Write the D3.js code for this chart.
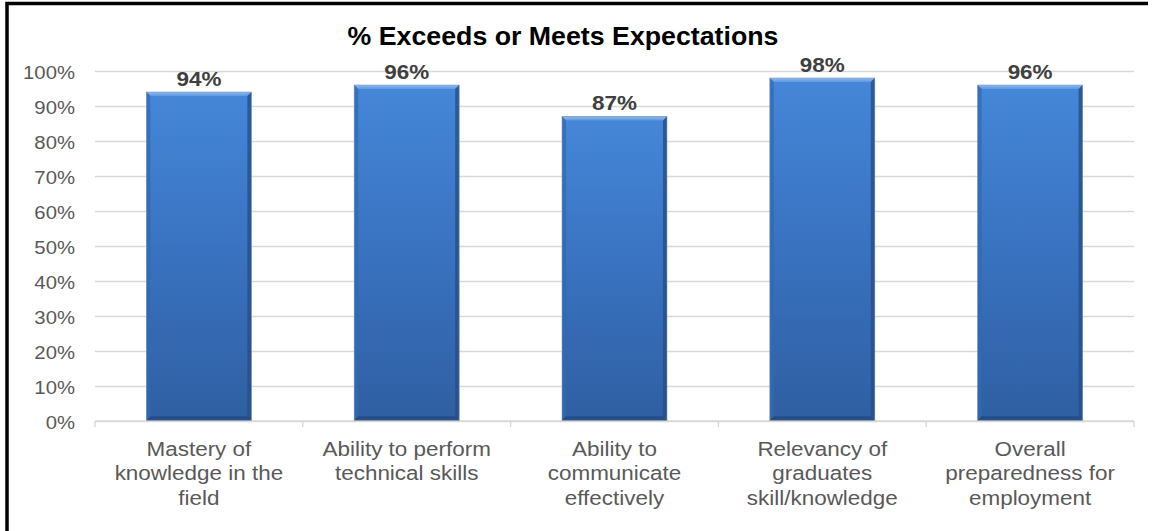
<!DOCTYPE html>
<html>
<head>
<meta charset="utf-8">
<script src="https://cdn.jsdelivr.net/npm/d3@7"></script>
<style>
  html, body { margin: 0; padding: 0; background: #fff; }
  svg { display: block; font-family: "Liberation Sans", Arial, sans-serif; }
</style>
</head>
<body>
<svg id="chart" width="1152" height="531"></svg>
<script>
// Survey results: share of ratings that exceed or meet expectations
const categories = [
  "Mastery of\nknowledge in the\nfield",
  "Ability to perform\ntechnical skills",
  "Ability to\ncommunicate\neffectively",
  "Relevancy of\ngraduates\nskill/knowledge",
  "Overall\npreparedness for\nemployment"
];
const values = [0.94, 0.96, 0.87, 0.98, 0.96];
const yTicks = [0, 0.1, 0.2, 0.3, 0.4, 0.5, 0.6, 0.7, 0.8, 0.9, 1.0];
const title = "% Exceeds or Meets Expectations";

const svg = d3.select("#chart");
const W = 1152, H = 531;
const plot = { left: 95, right: 1134, top: 71, bottom: 421 };
const STRETCH = 1.07; // text is drawn slightly wide

const x = d3.scaleBand()
  .domain(categories)
  .range([plot.left, plot.right])
  .paddingInner(0.495)
  .paddingOuter(0.2475);

const y = d3.scaleLinear().domain([0, 1]).range([plot.bottom, plot.top]);

// Frame (top and left edges)
svg.append("path")
  .attr("d", `M7,${H + 5} L7,3.5 L1148,3.5`)
  .attr("fill", "none")
  .attr("stroke", "#000")
  .attr("stroke-width", 3.5);

// Gradients for the bevelled bars
const defs = svg.append("defs");
const body = defs.append("linearGradient").attr("id", "barBody")
  .attr("x1", 0).attr("y1", 0).attr("x2", 0).attr("y2", 1);
body.append("stop").attr("offset", "0%").attr("stop-color", "#4587D8");
body.append("stop").attr("offset", "45%").attr("stop-color", "#3A74C2");
body.append("stop").attr("offset", "100%").attr("stop-color", "#2F5FA2");

const topBevel = defs.append("linearGradient").attr("id", "barTop")
  .attr("x1", 0).attr("y1", 0).attr("x2", 0).attr("y2", 1);
topBevel.append("stop").attr("offset", "0%").attr("stop-color", "#8EBBF0");
topBevel.append("stop").attr("offset", "100%").attr("stop-color", "#5C98E0");

// Gridlines
const grid = svg.append("g")
  .attr("transform", `translate(${plot.left},0)`)
  .call(d3.axisLeft(y).tickValues(yTicks).tickSize(-(plot.right - plot.left)).tickFormat(""));
grid.select(".domain").remove();
grid.selectAll("line").attr("stroke", "#D9D9D9").attr("stroke-width", 1.4);

// Y axis labels
const yAxis = svg.append("g")
  .attr("transform", `translate(${plot.left},0)`)
  .call(d3.axisLeft(y).tickValues(yTicks).tickSize(0).tickPadding(20 / STRETCH)
    .tickFormat(d3.format(".0%")));
yAxis.select(".domain").remove();
yAxis.selectAll("text")
  .attr("fill", "#595959")
  .attr("font-size", 19)
  .attr("font-family", "Liberation Sans, Arial, sans-serif")
  .attr("dy", "0.37em")
  .attr("transform", `scale(${STRETCH},1)`);

// Category axis: baseline with ticks at category boundaries
const step = x.step();
const bounds = d3.range(categories.length + 1).map(i => plot.left + i * step);
svg.append("line")
  .attr("x1", plot.left).attr("x2", plot.right)
  .attr("y1", plot.bottom).attr("y2", plot.bottom)
  .attr("stroke", "#D9D9D9").attr("stroke-width", 1.4);
svg.append("g").selectAll("line").data(bounds).join("line")
  .attr("x1", d => d).attr("x2", d => d)
  .attr("y1", plot.bottom).attr("y2", plot.bottom + 6)
  .attr("stroke", "#D9D9D9").attr("stroke-width", 1.4);

// Bars
const b = 4;
const bars = svg.append("g").selectAll("g").data(values).join("g");
bars.each(function (v, i) {
  const g = d3.select(this);
  const x0 = x(categories[i]), x1 = x0 + x.bandwidth();
  const y0 = y(v), y1 = y(0) - 0.7;
  g.append("rect")
    .attr("x", x0).attr("y", y0)
    .attr("width", x1 - x0).attr("height", y1 - y0)
    .attr("fill", "url(#barBody)");
  // top bevel
  g.append("polygon")
    .attr("points", [[x0, y0], [x1, y0], [x1 - b, y0 + b], [x0 + b, y0 + b]].join(" "))
    .attr("fill", "url(#barTop)");
  // left bevel
  g.append("polygon")
    .attr("points", [[x0, y0], [x0 + b, y0 + b], [x0 + b, y1 - b], [x0, y1]].join(" "))
    .attr("fill", "#3069B3").attr("opacity", 0.75);
  // right bevel
  g.append("polygon")
    .attr("points", [[x1, y0], [x1 - b, y0 + b], [x1 - b, y1 - b], [x1, y1]].join(" "))
    .attr("fill", "#244F8A").attr("opacity", 0.8);
  // bottom bevel
  g.append("polygon")
    .attr("points", [[x0, y1], [x0 + b, y1 - b], [x1 - b, y1 - b], [x1, y1]].join(" "))
    .attr("fill", "#22497F").attr("opacity", 0.8);
  // thin outline
  g.append("rect")
    .attr("x", x0).attr("y", y0)
    .attr("width", x1 - x0).attr("height", y1 - y0)
    .attr("fill", "none")
    .attr("stroke", "#7F93B0").attr("stroke-width", 0.8).attr("stroke-opacity", 0.7);
});

// Value labels
svg.append("g").selectAll("text").data(values).join("text")
  .attr("transform", (v, i) =>
    `translate(${x(categories[i]) + x.bandwidth() / 2},${y(v) - 6.5}) scale(${STRETCH},1)`)
  .attr("text-anchor", "middle")
  .attr("font-size", 21)
  .attr("font-weight", "bold")
  .attr("fill", "#404040")
  .text(v => d3.format(".0%")(v));

// Category labels
const lab = svg.append("g").selectAll("g").data(categories).join("g")
  .attr("transform", d => `translate(${x(d) + x.bandwidth() / 2},456) scale(${STRETCH},1)`);
lab.each(function (d) {
  const t = d3.select(this).append("text")
    .attr("text-anchor", "middle")
    .attr("font-size", 21)
    .attr("fill", "#595959");
  d.split("\n").forEach((line, k) => {
    t.append("tspan").attr("x", 0).attr("y", k * 24.5).text(line);
  });
});

// Title
svg.append("text")
  .attr("transform", `translate(563,45) scale(${STRETCH},1)`)
  .attr("text-anchor", "middle")
  .attr("font-size", 25)
  .attr("font-weight", "bold")
  .attr("fill", "#000")
  .text(title);
</script>
</body>
</html>
